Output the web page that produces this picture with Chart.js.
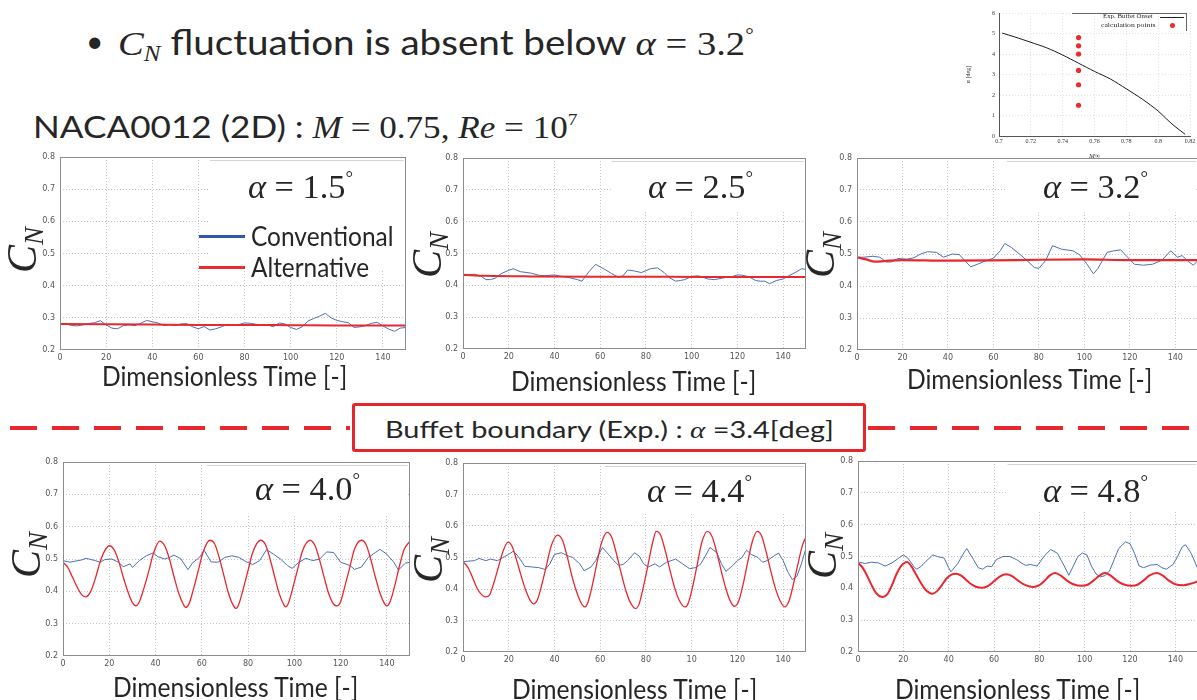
<!DOCTYPE html>
<html>
<head>
<meta charset="utf-8">
<script src="https://cdn.jsdelivr.net/npm/chart.js@4.4.0/dist/chart.umd.min.js"></script>
<style>
body { margin: 0; width: 1197px; height: 700px; overflow: hidden; position: relative; background: #fff;
       font-family: Lato, 'Open Sans', sans-serif; color: #262626; }
canvas { position: absolute; }
.t { position: absolute; white-space: nowrap; line-height: 1; transform-origin: 0 0; }
.mi { font-family: 'Liberation Serif', serif; font-style: italic; }
.m { font-family: 'Liberation Serif', serif; }
.sup { font-size: .55em; position: relative; top: -.75em; }
.sub { font-size: .65em; position: relative; top: .3em; }
</style>
</head>
<body>
<svg style="position:absolute;left:0;top:0" width="1197" height="700">
  <line x1="10" y1="428" x2="350" y2="428" stroke="#e8282e" stroke-width="4" stroke-dasharray="27 15"/>
  <line x1="868" y1="428" x2="1197" y2="428" stroke="#e8282e" stroke-width="4" stroke-dasharray="27 15"/>
</svg>
<div style="position:absolute;left:352px;top:403px;width:514px;height:49px;box-sizing:border-box;border:3.5px solid #e5262b;border-radius:3px;background:#fff"></div>

<script>
// ---- data: C_N time histories ----
var xTickLabels = ['0', '20', '40', '60', '80', '100', '120', '140'];
var xTickLabels44 = ['0', '20', '40', '60', '80', '10', '120', '140'];  // as printed in the original
var yTickLabels = ['0.2', '0.3', '0.4', '0.5', '0.6', '0.7', '0.8'];

// alpha = 1.5
var t15Conv = [0,2.5,5,7.5,10,12.5,15,17.5,20,22.5,25,27.5,30,32.5,35,37.5,40,42.5,45,47.5,50,52.5,55,57.5,60,62.5,65,67.5,70,72.5,75,77.5,80,82.5,85,87.5,90,92.5,95,97.5,100,102.5,105,107.5,110,112.5,115,117.5,120,122.5,125,127.5,130,132.5,135,137.5,140,142.5,145,147.5,150];
var cn15Conv = [0.280,0.282,0.276,0.275,0.278,0.282,0.285,0.291,0.278,0.268,
                0.266,0.276,0.278,0.276,0.283,0.292,0.288,0.284,0.276,0.279,
                0.276,0.281,0.282,0.272,0.266,0.273,0.262,0.266,0.272,0.280,
                0.276,0.279,0.284,0.283,0.280,0.276,0.278,0.272,0.284,0.281,
                0.270,0.264,0.272,0.290,0.298,0.305,0.314,0.300,0.292,0.288,
                0.285,0.270,0.272,0.276,0.283,0.286,0.275,0.265,0.258,0.268,0.270];
var t15Alt = [0, 20, 40, 60, 80, 100, 120, 150];
var cn15Alt = [0.281, 0.280, 0.279, 0.278, 0.278, 0.277, 0.276, 0.276];

// alpha = 2.5
var t25Conv = [0,3,5,8,10,12,14,17,20,22,25,28,30,33,36,40,43,46,50,52,55,58,60,62,65,68,70,72,75,78,80,82,85,88,90,93,95,97,100,103,105,107,110,113,115,118,120,122,125,128,130,132,134,137,140,143,146,148,150];
var cn25Conv = [0.432,0.433,0.435,0.428,0.418,0.418,0.422,0.438,0.447,0.452,
                0.443,0.44,0.438,0.432,0.43,0.433,0.428,0.425,0.418,0.413,
                0.442,0.466,0.458,0.45,0.437,0.425,0.43,0.448,0.445,0.44,
                0.446,0.452,0.455,0.44,0.425,0.413,0.415,0.418,0.428,0.43,
                0.425,0.42,0.418,0.422,0.425,0.428,0.433,0.432,0.427,0.415,
                0.413,0.413,0.405,0.415,0.42,0.432,0.443,0.452,0.45];
var t25Alt = [0, 10, 30, 60, 90, 120, 150];
var cn25Alt = [0.433, 0.430, 0.428, 0.427, 0.427, 0.426, 0.426];

// alpha = 3.2
var t32Conv = [0,3,7,10,13,15,18,22,25,28,31,35,38,42,45,48,50,53,56,60,63,65,68,72,75,78,80,83,86,90,95,98,101,104,106,110,113,116,119,122,126,130,134,138,141,143,146,148,150];
var cn32Conv = [0.49,0.49,0.493,0.49,0.475,0.475,0.486,0.484,0.488,0.5,
                0.507,0.505,0.49,0.5,0.498,0.475,0.46,0.468,0.477,0.487,
                0.51,0.533,0.52,0.497,0.478,0.458,0.455,0.48,0.526,0.515,
                0.51,0.497,0.47,0.438,0.455,0.505,0.51,0.513,0.49,0.468,
                0.465,0.468,0.48,0.51,0.49,0.495,0.475,0.465,0.48];
var t32Alt = [0, 4, 8, 12, 20, 40, 60, 80, 100, 120, 150];
var cn32Alt = [0.49, 0.483, 0.476, 0.478, 0.481, 0.479, 0.48, 0.482, 0.483, 0.481, 0.481];

// alpha = 4.0
var t40Conv = [0,3,5,8,10,14,16,18,21,24,26,29,30,33,36,39,41,44,46,48,51,54,56,59,61,64,67,70,73,76,79,82,85,88,91,94,97,99,102,105,108,111,114,117,120,124,126,129,132,135,137,140,143,145,148,150];
var cn40Conv = [0.495,0.49,0.493,0.497,0.502,0.495,0.49,0.498,0.5,0.49,
                0.476,0.485,0.474,0.495,0.51,0.519,0.507,0.5,0.505,0.512,
                0.5,0.467,0.488,0.505,0.527,0.491,0.49,0.505,0.51,0.505,
                0.492,0.483,0.495,0.529,0.515,0.5,0.48,0.471,0.49,0.502,
                0.495,0.5,0.522,0.52,0.49,0.48,0.468,0.475,0.505,0.52,
                0.53,0.515,0.49,0.466,0.487,0.49];
var t40Alt = [0,2,4,6,8,9.8,12,14,16,18,20,22,24,26,28,30,31.5,33,35,37,39,41.8,44,46,48,50,52,53,54.5,56.5,58.5,60.5,63.5,65.5,67.5,69.5,71.5,73.5,74.8,76,78,80,82,85.4,87.5,89.5,91.5,93.5,95.5,96.3,97.5,99.5,101.5,103.5,106.8,109,111,113,115,117,118.4,120,122,124,126,129,131,133,135,137,139,140,141.5,143.5,145.5,147.5,150];
var cn40Alt = [0.49,0.475,0.445,0.415,0.39,0.383,0.4,0.44,0.49,0.525,
               0.541,0.53,0.495,0.445,0.4,0.365,0.355,0.368,0.41,0.46,
               0.515,0.555,0.54,0.5,0.445,0.395,0.36,0.35,0.362,0.41,
               0.465,0.52,0.558,0.548,0.505,0.45,0.395,0.358,0.347,0.36,
               0.41,0.465,0.52,0.558,0.545,0.5,0.445,0.392,0.358,0.352,
               0.365,0.415,0.47,0.525,0.558,0.54,0.495,0.44,0.39,0.36,
               0.355,0.368,0.42,0.475,0.53,0.558,0.545,0.5,0.445,0.395,
               0.362,0.355,0.37,0.42,0.48,0.53,0.555];

// alpha = 4.4
var t44Conv = [0,5,7,10,12,15,18,20,22,24,27,30,33,36,38,40,43,46,48,51,53,56,58,61,63,66,68,70,72,75,77,79,81,84,86,89,91,93,96,99,102,104,106,108,111,113,115,118,120,122,124,126,129,131,133,136,138,140,142,144,146,148,150];
var cn44Conv = [0.487,0.49,0.497,0.49,0.495,0.49,0.502,0.51,0.52,0.505,
                0.472,0.47,0.468,0.462,0.48,0.51,0.515,0.505,0.5,0.48,
                0.458,0.47,0.49,0.532,0.515,0.49,0.475,0.478,0.49,0.515,
                0.505,0.48,0.47,0.48,0.47,0.485,0.49,0.495,0.48,0.465,
                0.468,0.48,0.505,0.532,0.515,0.48,0.456,0.475,0.49,0.5,
                0.523,0.51,0.5,0.485,0.49,0.505,0.514,0.49,0.455,0.43,
                0.44,0.48,0.53];
var t44Alt = [0,2,4,6,8,9.9,11.5,13.5,15.5,17.5,19.7,21.5,23.5,25.5,27.5,29.5,30.9,32.5,34.5,36.5,38.5,41.3,43.5,45.5,47.5,49.5,51.5,53.2,54.5,56.5,58.5,60.5,63,65,67,69,71,73,75.5,77,79,81,83,84.5,86.5,88.5,90.5,92.5,94.5,97,98.5,100.5,102.5,104.5,106.9,109,111,113,115,117,118.8,120.5,122.5,124.5,126.5,128.6,130.5,132.5,134.5,136.5,138.5,140.7,142.5,144.5,146.5,148.5,150];
var cn44Alt = [0.487,0.47,0.44,0.405,0.383,0.375,0.38,0.42,0.47,0.52,
               0.549,0.535,0.49,0.44,0.395,0.362,0.353,0.365,0.415,0.475,
               0.535,0.571,0.555,0.505,0.445,0.395,0.358,0.343,0.355,0.41,
               0.48,0.545,0.58,0.565,0.515,0.455,0.4,0.36,0.338,0.352,
               0.41,0.48,0.55,0.583,0.57,0.52,0.46,0.405,0.365,0.343,
               0.355,0.41,0.48,0.55,0.583,0.565,0.515,0.455,0.4,0.36,
               0.345,0.36,0.415,0.485,0.55,0.583,0.57,0.52,0.46,0.405,
               0.365,0.343,0.36,0.415,0.48,0.54,0.565];

// alpha = 4.8
var t48Conv = [0,3,6,9,12,15,18,20,22,25,26,28,30,33,35,38,40,41,44,47,48,51,53,55,57,59,61,64,67,70,72,74,76,79,82,85,88,91,93,95,97,99,101,103,105,107,109,111,113,115,118,120,122,124,126,129,132,134,136,139,141,143,144.5,147,150];
var cn48Conv = [0.483,0.478,0.482,0.48,0.47,0.48,0.495,0.505,0.495,0.465,
                0.46,0.47,0.485,0.505,0.5,0.495,0.465,0.452,0.478,0.515,
                0.525,0.49,0.465,0.46,0.47,0.468,0.49,0.5,0.5,0.49,
                0.48,0.472,0.475,0.47,0.5,0.522,0.51,0.47,0.441,0.47,
                0.5,0.511,0.505,0.47,0.445,0.436,0.44,0.455,0.49,0.525,
                0.546,0.54,0.51,0.47,0.465,0.473,0.475,0.465,0.46,0.475,
                0.5,0.53,0.537,0.51,0.46];
var t48Alt = [0,2,4,6,8,10.8,13,15,17,19,21.6,23.5,25.5,27.5,29.5,32.8,35,37,39,41,43.4,45.5,47.5,49.5,52,55,57.5,60,62.5,65.5,68,70.5,73,77.3,80,82.5,84.5,86.9,89.5,92,95,98.7,101.5,104,106.5,109,111.5,114,117,120.8,123.5,126,128.5,131.8,134.5,137,140,143.6,147,150];
var cn48Alt = [0.48,0.465,0.44,0.41,0.385,0.373,0.382,0.41,0.445,0.47,
               0.483,0.47,0.445,0.42,0.398,0.383,0.392,0.41,0.43,0.442,
               0.446,0.44,0.428,0.415,0.405,0.402,0.408,0.422,0.437,0.444,
               0.438,0.425,0.413,0.404,0.41,0.425,0.44,0.448,0.44,0.425,
               0.413,0.408,0.412,0.425,0.44,0.448,0.44,0.425,0.413,0.408,
               0.412,0.425,0.44,0.448,0.44,0.425,0.413,0.41,0.415,0.422];

// inset: experimental buffet onset and calculation points
var onsetMach = [0.702,0.71,0.72,0.73,0.74,0.75,0.76,0.77,0.78,0.79,0.80,0.805,0.81,0.817];
var onsetAlpha = [5.02,4.83,4.57,4.3,3.95,3.55,3.15,2.78,2.3,1.8,1.22,0.85,0.5,0.08];
var calcMach = [0.75, 0.75, 0.75, 0.75, 0.75, 0.75];
var calcAlpha = [1.5, 2.5, 3.2, 4.0, 4.4, 4.8];
var machTickLabels = ['0.7', '0.72', '0.74', '0.76', '0.78', '0.8', '0.82'];

var CONV_COLOR = '#4a70b5';
var ALT_COLOR = '#e8282e';

function pts(t, v) {
    return t.map(function (x, i) { return { x: x, y: v[i] }; });
}

// white patch that hides the grid behind the alpha label / legend (as in the slide)
var whiteBox = {
    id: 'whiteBox',
    beforeDatasetsDraw: function (chart, args, o) {
        if (o.x0 === undefined) return;
        var xs = chart.scales.x, ys = chart.scales.y, c = chart.ctx;
        var l = xs.getPixelForValue(o.x0), r = xs.getPixelForValue(o.x1);
        var t = ys.getPixelForValue(o.y0), b = ys.getPixelForValue(o.y1);
        c.save();
        c.fillStyle = '#fff';
        c.fillRect(l, t, r - l, b - t);
        c.strokeStyle = '#d4d4d4';
        c.lineWidth = 1;
        c.beginPath(); c.moveTo(l, Math.round(t) + 0.5); c.lineTo(r, Math.round(t) + 0.5); c.stroke();
        c.restore();
    }
};
var frame = {
    id: 'frame',
    afterDraw: function (chart) {
        var a = chart.chartArea, c = chart.ctx;
        c.save();
        c.strokeStyle = '#8c8c8c';
        c.lineWidth = 1;
        c.strokeRect(a.left + 0.5, a.top + 0.5, a.right - a.left - 1, a.bottom - a.top - 1);
        c.restore();
    }
};

function addCanvas(left, top, w, h) {
    var cv = document.createElement('canvas');
    cv.width = w; cv.height = h;
    cv.style.left = left + 'px'; cv.style.top = top + 'px';
    document.body.appendChild(cv);
    return cv;
}

// plot area box: L,T = pixel of (0, 0.8); R,B = pixel of (150, 0.2)
function cnChart(box, conv, alt, xLabels, patch, altWidth) {
    var cv = addCanvas(box.L - 30, box.T - 6, box.R - box.L + 36, box.B - box.T + 22);
    return new Chart(cv, {
        type: 'line',
        data: {
            datasets: [{
                label: 'Alternative',
                data: alt,
                borderColor: ALT_COLOR,
                borderWidth: altWidth,
                pointRadius: 0,
                cubicInterpolationMode: 'monotone'
            }, {
                label: 'Conventional',
                data: conv,
                borderColor: CONV_COLOR,
                borderWidth: 1,
                pointRadius: 0,
                tension: 0
            }]
        },
        options: {
            responsive: false,
            animation: false,
            devicePixelRatio: 1,
            layout: { padding: { top: 6, right: 6, left: 0, bottom: 0 } },
            plugins: { legend: { display: false }, tooltip: { enabled: false }, whiteBox: patch },
            scales: {
                x: {
                    type: 'linear', min: 0, max: 150,
                    afterBuildTicks: function (s) { s.ticks = s.ticks.filter(function (t) { return t.value % 20 === 0; }); },
                    afterFit: function (s) { s.height = 16; s.paddingLeft = 0; s.paddingRight = 0; },
                    ticks: {
                        stepSize: 20, maxRotation: 0, autoSkip: false, padding: 3, color: '#555',
                        font: { family: 'DejaVu Sans', size: 8 },
                        callback: function (v) { return xLabels[Math.round(v / 20)]; }
                    },
                    grid: {
                        drawTicks: false,
                        color: function (c) { return (c.tick.value <= 0 || c.tick.value >= 150) ? 'rgba(0,0,0,0)' : '#c4c4c4'; }
                    },
                    border: { display: false, dash: [1, 2] }
                },
                y: {
                    min: 0.2, max: 0.8,
                    afterFit: function (s) { s.width = 30; s.paddingTop = 0; s.paddingBottom = 0; },
                    ticks: {
                        stepSize: 0.1, padding: 5, color: '#555',
                        font: { family: 'DejaVu Sans', size: 8 },
                        callback: function (v, i) { return yTickLabels[i]; }
                    },
                    grid: {
                        drawTicks: false,
                        color: function (c) { return (c.tick.value < 0.25 || c.tick.value > 0.75) ? 'rgba(0,0,0,0)' : '#c4c4c4'; }
                    },
                    border: { display: false, dash: [1, 2] }
                }
            }
        },
        plugins: [whiteBox, frame]
    });
}

cnChart({ L: 60, T: 157, R: 406, B: 350 }, pts(t15Conv, cn15Conv), pts(t15Alt, cn15Alt), xTickLabels,
        { x0: 65, x1: 149, y0: 0.79, y1: 0.45 }, 2);
cnChart({ L: 463, T: 158, R: 806, B: 349 }, pts(t25Conv, cn25Conv), pts(t25Alt, cn25Alt), xTickLabels,
        { x0: 65, x1: 149, y0: 0.79, y1: 0.63 }, 2);
cnChart({ L: 857, T: 158, R: 1198, B: 350 }, pts(t32Conv, cn32Conv), pts(t32Alt, cn32Alt), xTickLabels,
        { x0: 66, x1: 149, y0: 0.79, y1: 0.63 }, 2.2);
cnChart({ L: 63, T: 462, R: 410, B: 656 }, pts(t40Conv, cn40Conv), pts(t40Alt, cn40Alt), xTickLabels,
        { x0: 62, x1: 149, y0: 0.79, y1: 0.64 }, 1.3);
cnChart({ L: 463, T: 463, R: 806, B: 652 }, pts(t44Conv, cn44Conv), pts(t44Alt, cn44Alt), xTickLabels44,
        { x0: 62, x1: 149, y0: 0.79, y1: 0.64 }, 1.3);
cnChart({ L: 858, T: 461, R: 1198, B: 652 }, pts(t48Conv, cn48Conv), pts(t48Alt, cn48Alt), xTickLabels,
        { x0: 66, x1: 149, y0: 0.79, y1: 0.64 }, 2);

// inset: buffet onset map
var inset = addCanvas(965, 0, 232, 160);
new Chart(inset, {
    type: 'scatter',
    data: {
        datasets: [{
            label: 'Exp. Buffet Onset',
            data: pts(onsetMach, onsetAlpha),
            showLine: true, borderColor: '#1a1a1a', borderWidth: 1, pointRadius: 0, tension: 0.3
        }, {
            label: 'calculation points',
            data: pts(calcMach, calcAlpha),
            pointRadius: 2.6, backgroundColor: '#ee2a2a', borderWidth: 0
        }]
    },
    options: {
        responsive: false, animation: false, devicePixelRatio: 1,
        layout: { padding: { top: 13, right: 7, left: 0, bottom: 0 } },
        plugins: { legend: { display: false }, tooltip: { enabled: false } },
        scales: {
            x: {
                type: 'linear', min: 0.7, max: 0.82,
                afterFit: function (s) { s.height = 24; s.paddingLeft = 0; s.paddingRight = 0; },
                ticks: {
                    stepSize: 0.02, maxRotation: 0, autoSkip: false, padding: 2, color: '#333',
                    font: { family: 'Liberation Serif', size: 6 },
                    callback: function (v, i) { return machTickLabels[i]; }
                },
                title: { display: true, text: 'M∞', padding: { top: 0, bottom: 0 }, color: '#333',
                         font: { family: 'Liberation Serif', size: 7, style: 'italic' } },
                grid: { drawTicks: false, color: function (c) { return c.index === 0 ? 'rgba(0,0,0,0)' : '#e2e2e2'; } },
                border: { display: true, color: '#555', dash: [1, 2] }
            },
            y: {
                min: 0, max: 6,
                afterFit: function (s) { s.width = 34; s.paddingTop = 0; s.paddingBottom = 0; },
                ticks: { stepSize: 1, padding: 4, color: '#333', font: { family: 'Liberation Serif', size: 6 } },
                title: { display: true, text: 'α [deg]', padding: { top: 0, bottom: 4 }, color: '#333',
                         font: { family: 'Liberation Serif', size: 6 } },
                grid: { drawTicks: false, color: function (c) { return c.index === 0 ? 'rgba(0,0,0,0)' : '#e2e2e2'; } },
                border: { display: true, color: '#555', dash: [1, 2] }
            }
        }
    }
});

// ---- text ----
function addText(html, x, base, size, opt) {
    opt = opt || {};
    var d = document.createElement('div');
    d.className = 't' + (opt.cls ? ' ' + opt.cls : '');
    d.innerHTML = html;
    d.style.fontSize = size + 'px';
    if (opt.color) d.style.color = opt.color;
    document.body.appendChild(d);
    d.style.top = (base - size * (opt.k || 0.887)) + 'px';
    var sx = opt.w ? opt.w / d.offsetWidth : 1;
    var left = opt.center ? x - d.offsetWidth * sx / 2 : x;
    d.style.left = left + 'px';
    if (sx !== 1) d.style.transform = 'scaleX(' + sx + ')';
    return d;
}
function addCN(cx, cy) {
    var d = document.createElement('div');
    d.className = 't mi';
    d.style.fontSize = '42px';
    d.innerHTML = 'C<span style="font-size:27px;position:relative;top:7px">N</span>';
    document.body.appendChild(d);
    d.style.left = (cx - d.offsetWidth / 2) + 'px';
    d.style.top = (cy - d.offsetHeight / 2) + 'px';
    d.style.transformOrigin = '50% 50%';
    d.style.transform = 'rotate(-90deg)';
}
function addLine(x, y, w, h, color) {
    var d = document.createElement('div');
    d.style.cssText = 'position:absolute;left:' + x + 'px;top:' + y + 'px;width:' + w + 'px;height:' + h + 'px;background:' + color;
    document.body.appendChild(d);
    return d;
}

addText('•', 86, 52, 30);
addText('<span class="mi">C<span class="sub">N</span></span> fluctuation is absent below <span class="mi">α</span><span class="m"> = 3.2<span class="sup">°</span></span>',
        118, 55, 34, { w: 636 });
addText('NACA0012 (2D) : <span class="mi">M</span><span class="m"> = 0.75, </span><span class="mi">Re</span><span class="m"> = 10<span class="sup">7</span></span>',
        33, 138, 31, { w: 545 });

var alphaText = ['1.5', '2.5', '3.2', '4.0', '4.4', '4.8'];
var alphaPos = [[248, 198], [648, 198], [1043, 198], [255, 500], [647, 502], [1043, 502]];
alphaPos.forEach(function (p, i) {
    addText('<i>α</i> = ' + alphaText[i] + '<span class="sup">°</span>', p[0], p[1], 34,
            { cls: 'm', k: 0.837, w: 105 });
});

var xTitlePos = [[224, 386], [633, 391], [1029, 389], [235, 697], [634, 699], [1017, 699]];
xTitlePos.forEach(function (p) {
    addText('Dimensionless Time [-]', p[0], p[1], 26, { center: true, w: 245 });
});

[[22, 250], [427, 255], [820, 255], [26, 555], [428, 560], [822, 556]].forEach(function (p) {
    addCN(p[0], p[1]);
});

// legend of the first panel
addLine(199, 235, 46, 3, '#2d5aa8');
addText('Conventional', 251, 246, 26, { w: 143 });
addLine(199, 266, 46, 3, '#ee2a2f');
addText('Alternative', 251, 277, 26, { w: 118 });

addText('Buffet boundary (Exp.) : <span class="mi">α</span> =3.4[deg]', 609, 438, 24, { center: true, w: 449 });

// inset legend
addText('Exp. Buffet Onset', 1103, 19, 7, { cls: 'm', k: 0.837, w: 50 });
addText('calculation points', 1101, 28, 7, { cls: 'm', k: 0.837, w: 55 });
var lg = document.createElement('div');
lg.style.cssText = 'position:absolute;left:1072px;top:13px;width:114px;height:17px;border-top:1px solid #666;border-right:1px solid #666';
document.body.appendChild(lg);
addLine(1160, 17, 24, 1, '#222');
var dot = document.createElement('div');
dot.style.cssText = 'position:absolute;left:1170px;top:23px;width:5px;height:5px;border-radius:50%;background:#ee2a2a';
document.body.appendChild(dot);
</script>
</body>
</html>
